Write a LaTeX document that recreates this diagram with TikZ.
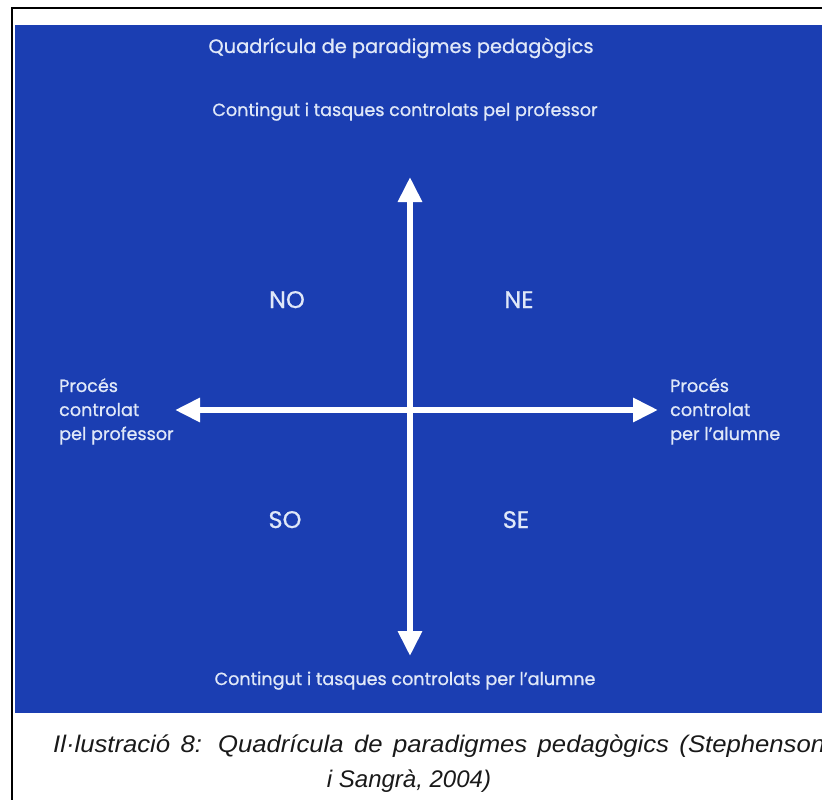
\documentclass[tikz,border=0pt]{standalone}
\usepackage{fontspec}
\setmainfont{Liberation Sans}
\newfontfamily\geofont{Poppins}[FakeBold=0.8]
\newfontfamily\peufont{Liberation Sans}[FakeStretch=1.07]
\usetikzlibrary{arrows.meta}
\usetikzlibrary{positioning}
\definecolor{fonsblau}{RGB}{27,62,178}
\definecolor{textclar}{RGB}{224,232,248}
\definecolor{peu}{RGB}{25,25,25}
\tikzset{
	quadricula/.style = {
		x=1pt, y=-1pt, node distance=40pt,
	},
	etiqueta/.style = {text=textclar, inner sep=0pt, anchor=base, font=\geofont\fontsize{17.6}{24}\selectfont},
	quadrant/.style = {etiqueta, font=\geofont\fontsize{24}{24}\selectfont},
	fletxa/.style = {draw=white, line width=6pt,
		{Triangle[width=23pt,length=25pt]}-{Triangle[width=23pt,length=25pt]}},
	llegenda/.style = {text=peu, inner sep=0pt, anchor=base, font=\itshape\fontsize{24}{28}\selectfont},
}

\begin{document}
\begin{tikzpicture}[quadricula]
		\useasboundingbox (0,0) rectangle (822,800);
		\clip (0,0) rectangle (822,800);
		\draw[line width=2.5pt] (12,8) rectangle (840,820);
		\fill[fonsblau] (15,25) rectangle (824,713);
		
		\node[etiqueta, font=\geofont\fontsize{19.4}{24}\selectfont] (titol) at (401,53) {Quadrícula de paradigmes pedagògics};
		\node[etiqueta] (prof) at (405,116) {Contingut i tasques controlats pel professor};
		\node[etiqueta] (alum) at (405,685) {Contingut i tasques controlats per l’alumne};
		
		\node[etiqueta, anchor=base west, align=left] (esq) at (59,440) {Procés\\controlat\\pel professor};
		\node[etiqueta, anchor=base west, align=left] (dre) at (670,440) {Procés\\controlat\\per l’alumne};
		
		\node[quadrant] (no) at (287,308) {NO};
		\node[quadrant] (ne) at (519,308) {NE};
		\node[quadrant] (so) at (285,528) {SO};
		\node[quadrant] (se) at (516,528) {SE};
		
		\coordinate (dalt) at (410,177);
		\coordinate (baix) at (410,656);
		\coordinate (esquerra) at (175,410);
		\coordinate (dreta) at (658,410);
		\draw[fletxa] (dalt) -- (baix);
		\draw[fletxa] (esquerra) -- (dreta);
		
		\node[llegenda, anchor=base west] (peu1) at (53,752) {\peufont\itshape\makebox[772pt][s]{Il·lustració 8: Quadrícula de paradigmes pedagògics (Stephenson}};
		\node[llegenda] (peu2) at (409,787) {i Sangrà, 2004)};
	\end{tikzpicture}
\end{document}
